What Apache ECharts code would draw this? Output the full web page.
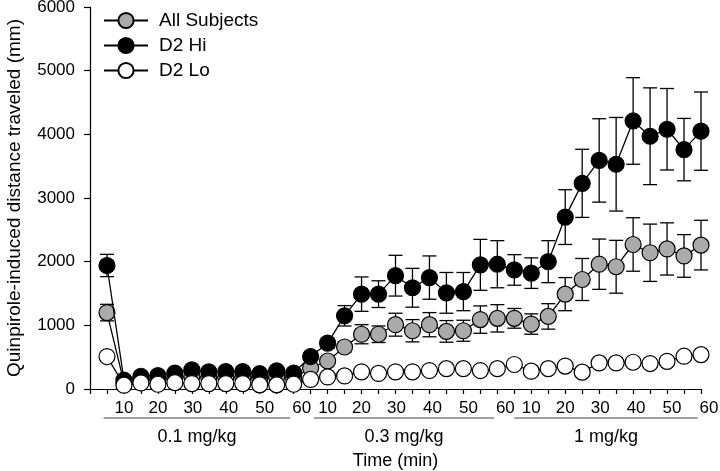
<!DOCTYPE html>
<html>
<head>
<meta charset="utf-8">
<script src="https://cdn.jsdelivr.net/npm/echarts@6/dist/echarts.min.js"></script>
<style>
html, body { margin: 0; padding: 0; background: #fff; }
#chart { width: 720px; height: 471px; }
</style>
</head>
<body>
<div id="chart"></div>
<script>
// 5-min bins, three 60-min sessions back to back (0.1, 0.3, 1 mg/kg)
const minutes = [5, 10, 15, 20, 25, 30, 35, 40, 45, 50, 55, 60,
  65, 70, 75, 80, 85, 90, 95, 100, 105, 110, 115, 120,
  125, 130, 135, 140, 145, 150, 155, 160, 165, 170, 175, 180]

const allSubjects = [1200, 100, 150, 150, 180, 200, 180, 185, 185, 160, 190, 170,
  330, 440, 660, 860, 860, 1010, 915, 1010, 905, 915, 1090, 1110,
  1110, 1020, 1140, 1490, 1720, 1960, 1920, 2270, 2140, 2200, 2090, 2260]
const allSubjectsSe = [130, 30, 30, 30, 30, 30, 30, 30, 30, 30, 30, 30,
  40, 60, 80, 150, 130, 180, 175, 190, 170, 165, 215, 215,
  155, 160, 200, 260, 330, 395, 415, 420, 450, 410, 335, 390]

const d2Hi = [1940, 140, 200, 210, 250, 300, 270, 275, 275, 240, 285, 250,
  510, 720, 1150, 1490, 1490, 1780, 1590, 1750, 1510, 1530, 1950, 1960,
  1870, 1820, 2000, 2700, 3230, 3590, 3530, 4210, 3970, 4080, 3760, 4050]
const d2HiSe = [175, 50, 50, 50, 50, 50, 50, 50, 50, 50, 50, 50,
  60, 80, 160, 270, 210, 320, 305, 340, 320, 300, 400, 370,
  240, 240, 330, 430, 535, 655, 735, 680, 760, 640, 490, 615]

const d2Lo = [510, 60, 95, 75, 100, 85, 85, 85, 85, 65, 65, 75,
  150, 190, 205, 270, 245, 270, 270, 290, 320, 320, 290, 320,
  385, 280, 320, 360, 265, 410, 410, 420, 400, 435, 515, 540]
const d2LoSe = [40, 20, 20, 20, 20, 20, 20, 20, 20, 20, 20, 20,
  30, 30, 30, 30, 30, 30, 30, 30, 30, 30, 30, 30,
  30, 30, 30, 30, 30, 30, 30, 30, 30, 30, 30, 30]

const yTicks = [0, 1000, 2000, 3000, 4000, 5000, 6000]
const doseLabels = ['0.1 mg/kg', '0.3 mg/kg', '1 mg/kg']
const doseStart = [4, 66, 125]
const doseEnd = [59, 119, 179]

const font = 'Liberation Sans, Arial, sans-serif'
const chart = echarts.init(document.getElementById('chart'))

function zip(vals) {
  return minutes.map(function(m, i) { return [m, vals[i]] })
}

function errorBars(name, vals, errs) {
  return {
    type: 'custom',
    name: name,
    z: 1,
    silent: true,
    data: minutes.map(function(m, i) { return [m, vals[i] - errs[i], vals[i] + errs[i]] }),
    renderItem: function(params, api) {
      const lo = api.coord([api.value(0), api.value(1)])
      const hi = api.coord([api.value(0), api.value(2)])
      const hw = 7
      const st = { stroke: '#000', lineWidth: 1.3 }
      return {
        type: 'group',
        children: [
          { type: 'line', shape: { x1: lo[0], y1: lo[1], x2: hi[0], y2: hi[1] }, style: st },
          { type: 'line', shape: { x1: hi[0] - hw, y1: hi[1], x2: hi[0] + hw, y2: hi[1] }, style: st },
          { type: 'line', shape: { x1: lo[0] - hw, y1: lo[1], x2: lo[0] + hw, y2: lo[1] }, style: st }
        ]
      }
    }
  }
}

function lineSeries(name, vals, fill, z) {
  return {
    type: 'line',
    name: name,
    z: z,
    data: zip(vals),
    symbol: 'circle',
    symbolSize: 16,
    showAllSymbol: true,
    lineStyle: { color: '#000', width: 1.3 },
    itemStyle: { color: fill, borderColor: '#000', borderWidth: 1.2 },
    emphasis: { disabled: true }
  }
}

// shift of the "50"/"60" tick labels, as in the original figure
const labelShift = { 10: 0, 20: 0, 30: 1, 40: 3, 50: 5, 60: 8 }

function richLabel(m) {
  return { fontSize: 17, fontFamily: font, color: '#000', padding: [0, 0, 0, 2 * labelShift[m]] }
}

const option = {
  animation: false,
  grid: { left: 90, right: 19, top: 7, bottom: 82, containLabel: false, outerBoundsMode: 'none' },
  legend: {
    data: ['All Subjects', 'D2 Hi', 'D2 Lo'],
    orient: 'vertical',
    left: 103,
    top: 11,
    padding: 0,
    itemWidth: 44,
    itemHeight: 19,
    itemGap: 6,
    textStyle: { fontSize: 19, color: '#000', fontFamily: font, padding: [0, 0, 0, 6] }
  },
  xAxis: {
    type: 'value',
    min: 0,
    max: 180,
    interval: 5,
    name: 'Time (min)',
    nameLocation: 'middle',
    nameGap: 63,
    nameTextStyle: { fontSize: 18, color: '#000', fontFamily: font },
    axisLine: { show: true, lineStyle: { color: '#000', width: 1.2 } },
    axisTick: { show: true, length: 5, lineStyle: { color: '#000', width: 1.2 } },
    splitLine: { show: false },
    axisLabel: {
      margin: 11,
      fontSize: 17,
      color: '#000',
      fontFamily: font,
      showMinLabel: true,
      showMaxLabel: true,
      formatter: function(v) {
        if (v === 0 || v % 10 !== 0) return ''
        const m = v % 60 === 0 ? 60 : v % 60
        return '{s' + m + '|' + m + '}'
      },
      rich: {
        s10: richLabel(10),
        s20: richLabel(20),
        s30: richLabel(30),
        s40: richLabel(40),
        s50: richLabel(50),
        s60: richLabel(60)
      }
    }
  },
  yAxis: {
    type: 'value',
    min: yTicks[0],
    max: yTicks[yTicks.length - 1],
    interval: 1000,
    name: 'Quinpirole-induced distance traveled (mm)',
    nameLocation: 'middle',
    nameGap: 66,
    nameTextStyle: { fontSize: 19, color: '#000', fontFamily: font },
    axisLine: { show: true, lineStyle: { color: '#000', width: 1.2 } },
    axisTick: { show: true, length: 6, lineStyle: { color: '#000', width: 1.2 } },
    splitLine: { show: false },
    axisLabel: {
      margin: 15,
      fontSize: 17,
      color: '#000',
      fontFamily: font,
      formatter: function(v) { return String(v) }
    }
  },
  series: [
    errorBars('All Subjects SE', allSubjects, allSubjectsSe),
    errorBars('D2 Hi SE', d2Hi, d2HiSe),
    errorBars('D2 Lo SE', d2Lo, d2LoSe),
    lineSeries('All Subjects', allSubjects, '#aaaaaa', 2),
    lineSeries('D2 Hi', d2Hi, '#000000', 3),
    lineSeries('D2 Lo', d2Lo, '#ffffff', 4)
  ]
}

chart.setOption(option)

// dose brackets under the time labels
const graphics = []
doseLabels.forEach(function(label, i) {
  const a = chart.convertToPixel({ gridIndex: 0 }, [doseStart[i], 0])
  const b = chart.convertToPixel({ gridIndex: 0 }, [doseEnd[i], 0])
  graphics.push({
    type: 'line',
    shape: { x1: a[0], y1: a[1] + 29, x2: b[0], y2: b[1] + 29 },
    style: { stroke: '#808080', lineWidth: 1.5 }
  })
  graphics.push({
    type: 'text',
    x: (a[0] + b[0]) / 2,
    y: a[1] + 48,
    style: {
      text: label,
      fontSize: 18,
      fontFamily: font,
      fill: '#000',
      align: 'center',
      verticalAlign: 'middle'
    }
  })
})
chart.setOption({ graphic: graphics })
</script>
</body>
</html>
